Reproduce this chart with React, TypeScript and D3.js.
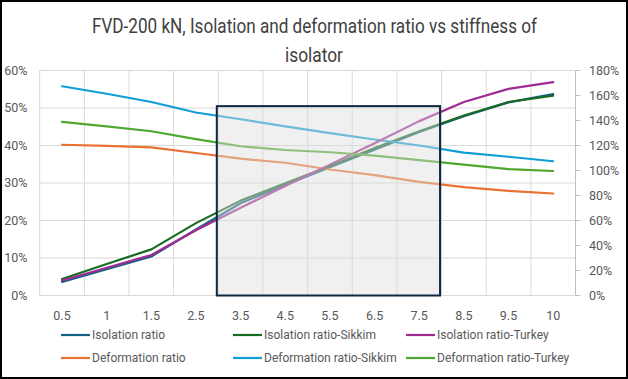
import React from 'react';
import * as d3 from 'd3';

const categories = ['0.5', '1', '1.5', '2.5', '3.5', '4.5', '5.5', '6.5', '7.5', '8.5', '9.5', '10'];
// primary axis (percent)
const isolationRatio = [3.6, 7.0, 10.4, 17.6, 24.6, 29.5, 34.2, 38.9, 43.6, 47.8, 51.5, 53.7];
const isolationSikkim = [4.4, 8.4, 12.3, 19.3, 25.3, 29.9, 34.5, 39.3, 43.8, 48.0, 51.6, 53.3];
const isolationTurkey = [4.0, 7.4, 10.8, 17.4, 23.4, 29.2, 34.9, 40.6, 46.5, 51.6, 55.1, 56.9];
// secondary axis (percent)
const deformationRatio = [120.6, 119.7, 118.5, 114.0, 109.5, 106.2, 100.8, 96.3, 90.9, 86.7, 83.7, 81.6];
const deformationSikkim = [167.4, 161.4, 154.8, 146.4, 141.0, 135.3, 129.9, 124.8, 120.0, 114.3, 111.0, 107.4];
const deformationTurkey = [138.9, 135.3, 131.4, 125.1, 119.4, 116.4, 114.6, 111.9, 108.3, 104.7, 101.1, 99.6];

const leftTicks = [0, 10, 20, 30, 40, 50, 60];
const rightTicks = [0, 20, 40, 60, 80, 100, 120, 140, 160, 180];

const titleLines = ['FVD-200 kN, Isolation and deformation ratio vs stiffness of', 'isolator'];

// highlighted region: categories 3.5 .. 7.5, up to 50.5% on the left axis
const boxFrom = '3.5';
const boxTo = '7.5';
const boxTop = 50.5;

const W = 628;
const H = 379;

export default function App() {
  const left = 39.7;
  const right = 575.5;
  const top = 70.5;
  const bottom = 295.5;

  const x = d3.scaleBand<string>().domain(categories).range([left, right]).padding(0);
  const bw = x.bandwidth();
  const cx = (c: string) => (x(c) as number) + bw / 2;
  const yL = d3.scaleLinear().domain([0, 60]).range([bottom, top]);
  const yR = d3.scaleLinear().domain([0, 180]).range([bottom, top]);

  const series = [
    { name: 'Isolation ratio', values: isolationRatio, color: '#156082', axis: 'L' },
    { name: 'Deformation ratio', values: deformationRatio, color: '#E97132', axis: 'R' },
    { name: 'Isolation ratio-Sikkim', values: isolationSikkim, color: '#196B24', axis: 'L' },
    { name: 'Deformation ratio-Sikkim', values: deformationSikkim, color: '#0F9ED5', axis: 'R' },
    { name: 'Isolation ratio-Turkey', values: isolationTurkey, color: '#A02B93', axis: 'L' },
    { name: 'Deformation ratio-Turkey', values: deformationTurkey, color: '#4EA72E', axis: 'R' },
  ];

  const legendOrder = [
    ['Isolation ratio', 'Isolation ratio-Sikkim', 'Isolation ratio-Turkey'],
    ['Deformation ratio', 'Deformation ratio-Sikkim', 'Deformation ratio-Turkey'],
  ];
  const legendCols = [61, 233, 406];
  const legendRows = [335, 358];

  const font = 'Roboto, "Open Sans", sans-serif';
  const textColor = '#595959';

  const boundaries = categories.map((c) => x(c) as number).concat([right]);

  const boxX0 = (x(boxFrom) as number) - 1.5;
  const boxX1 = (x(boxTo) as number) + bw - 1.5;

  return (
    <svg
      width={W}
      height={H}
      style={{ position: 'fixed', left: 0, top: 0, background: '#fff' }}
      fontFamily={font}
    >
      <rect x={0} y={0} width={W} height={H} fill="#fff" />
      {/* title */}
      <text x={W / 2 + 0.5} y={33} textAnchor="middle" fontSize={20} fill="#404040" textLength={445} lengthAdjust="spacingAndGlyphs">
        {titleLines[0]}
      </text>
      <text x={W / 2} y={62} textAnchor="middle" fontSize={20} fill="#404040" textLength={58} lengthAdjust="spacingAndGlyphs">
        {titleLines[1]}
      </text>

      {/* gridlines */}
      {leftTicks.map((t) => (
        <line key={'h' + t} x1={left} x2={right} y1={yL(t)} y2={yL(t)} stroke="#d9d9d9" strokeWidth={1} />
      ))}
      {boundaries.map((b, i) => (
        <line key={'v' + i} x1={b} x2={b} y1={top} y2={bottom} stroke="#d9d9d9" strokeWidth={1} />
      ))}
      {/* right axis */}
      <line x1={right} x2={right} y1={top} y2={bottom} stroke="#bfbfbf" strokeWidth={1} />
      {rightTicks.map((t) => (
        <line key={'rt' + t} x1={right} x2={right + 5} y1={yR(t)} y2={yR(t)} stroke="#bfbfbf" strokeWidth={1} />
      ))}
      <line x1={left} x2={right} y1={bottom} y2={bottom} stroke="#d9d9d9" strokeWidth={1} />

      {/* lines */}
      {series.map((s) => {
        const ys = s.axis === 'L' ? yL : yR;
        const gen = d3
          .line<number>()
          .x((_, i) => cx(categories[i]))
          .y((v) => ys(v));
        return (
          <path key={s.name} d={gen(s.values) || ''} fill="none" stroke={s.color} strokeWidth={2.2} strokeLinejoin="round" strokeLinecap="round" />
        );
      })}

      {/* highlight box */}
      <rect
        x={boxX0}
        y={yL(boxTop)}
        width={boxX1 - boxX0}
        height={yL(0) - yL(boxTop)}
        fill="#dedede"
        fillOpacity={0.45}
        stroke="#0E2841"
        strokeWidth={2}
      />

      {/* left tick labels */}
      {leftTicks.map((t) => (
        <text key={'lt' + t} x={27.5} y={yL(t)} dy="0.35em" textAnchor="end" fontSize={12.5} fill={textColor}>
          {t + '%'}
        </text>
      ))}
      {/* right tick labels */}
      {rightTicks.map((t) => (
        <text key={'rl' + t} x={589} y={yR(t)} dy="0.35em" textAnchor="start" fontSize={12.5} fill={textColor}>
          {t + '%'}
        </text>
      ))}
      {/* x tick labels */}
      {categories.map((c) => (
        <text key={'x' + c} x={cx(c)} y={316} dy="0.35em" textAnchor="middle" fontSize={12.5} fill={textColor}>
          {c}
        </text>
      ))}

      {/* legend */}
      {legendOrder.map((row, ri) =>
        row.map((name, ci) => {
          const s = series.find((q) => q.name === name)!;
          const lx = legendCols[ci];
          const ly = legendRows[ri];
          return (
            <g key={name}>
              <line x1={lx} x2={lx + 29} y1={ly} y2={ly} stroke={s.color} strokeWidth={2.2} />
              <text x={lx + 31} y={ly} dy="0.35em" fontSize={12} fill={textColor}>
                {name}
              </text>
            </g>
          );
        })
      )}

      {/* chart border */}
      <rect x={1} y={1} width={W - 2} height={H - 2} fill="none" stroke="#000" strokeWidth={2} />
    </svg>
  );
}
